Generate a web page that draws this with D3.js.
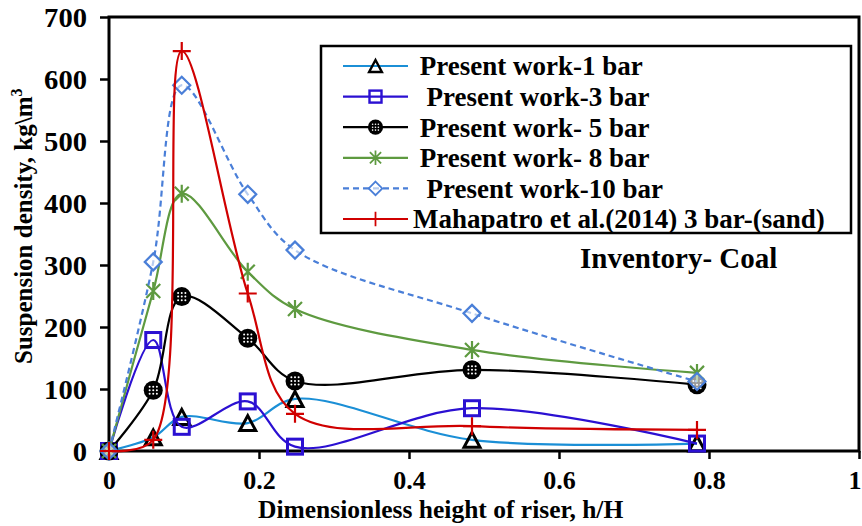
<!DOCTYPE html>
<html>
<head>
<meta charset="utf-8">
<script src="https://cdn.jsdelivr.net/npm/d3@7/dist/d3.min.js"></script>
<style>
  html, body { margin: 0; padding: 0; background: #fff; }
  svg { display: block; }
  text { font-family: "Liberation Serif", "Times New Roman", serif; font-weight: bold; fill: #000; }
  .pre { white-space: pre; }
</style>
</head>
<body>
<svg id="chart" width="862" height="526"></svg>
<script>
// Dimensionless riser height h/H for each measuring station
const hH = [0, 0.059, 0.097, 0.185, 0.248, 0.484, 0.784];

// Suspension density (kg/m3) per operating pressure
const bar1 = [0, 22, 55, 45, 84, 18, 12];
const bar3 = [0, 179, 39, 80, 7, 69, 12];
const bar5 = [0, 98, 249, 182, 113, 131, 107];
const bar8 = [0, 258, 415, 289, 229, 163, 126];
const bar10 = [0, 305, 590, 414, 324, 222, 112];
const mahapatro = [0, 18, 645, 254, 60, 40, 34];

const seriesNames = [
  " Present work-1 bar",
  "  Present work-3 bar",
  " Present work- 5 bar",
  " Present work- 8 bar",
  "  Present work-10 bar",
  "Mahapatro et al.(2014) 3 bar-(sand)"
];

const xTicks = [0, 0.2, 0.4, 0.6, 0.8, 1];
const yTicks = [0, 100, 200, 300, 400, 500, 600, 700];

const series = [
  { name: seriesNames[0], values: bar1, color: "#1b8fd6", marker: "triangle", dash: null },
  { name: seriesNames[1], values: bar3, color: "#2b10d2", marker: "square", dash: null },
  { name: seriesNames[2], values: bar5, color: "#000000", marker: "dotcircle", dash: null },
  { name: seriesNames[3], values: bar8, color: "#5e9a40", marker: "star", dash: null },
  { name: seriesNames[4], values: bar10, color: "#4a7fd8", marker: "diamond", dash: "6,4" },
  { name: seriesNames[5], values: mahapatro, color: "#d00000", marker: "plus", dash: null }
];

const svg = d3.select("#chart");
const plot = { left: 109, right: 859, top: 17, bottom: 451 };

const x = d3.scaleLinear().domain([0, 1]).range([plot.left, plot.right]);
const y = d3.scaleLinear().domain([0, 700]).range([plot.bottom, plot.top]);

// Markers drawn around (0,0)
function drawMarker(g, type, color, s) {
  s = s || 1;
  if (type === "triangle") {
    const w = 8 * s, h = 7.5 * s;
    g.append("path")
      .attr("d", `M0,${-h}L${w},${h}L${-w},${h}Z`)
      .attr("fill", "none").attr("stroke", "#000").attr("stroke-width", 3 * s)
      .attr("stroke-linejoin", "miter");
  } else if (type === "square") {
    const a = 7.5 * s;
    g.append("rect").attr("x", -a).attr("y", -a).attr("width", 2 * a).attr("height", 2 * a)
      .attr("fill", "none").attr("stroke", color).attr("stroke-width", 3 * s);
  } else if (type === "dotcircle") {
    const r = 9.5 * s;
    g.append("circle").attr("r", r).attr("fill", "#000");
    const step = 3.6 * s;
    for (let i = -1; i <= 1; i++) {
      for (let j = -1; j <= 1; j++) {
        g.append("circle").attr("cx", i * step).attr("cy", j * step).attr("r", 1 * s).attr("fill", "#fff");
      }
    }
  } else if (type === "star") {
    const a = 9 * s, d = 7 * s;
    g.append("path")
      .attr("d", `M0,${-a}V${a}M${-d},${-d}L${d},${d}M${-d},${d}L${d},${-d}`)
      .attr("stroke", color).attr("stroke-width", 2.2 * s).attr("fill", "none");
  } else if (type === "diamond") {
    const a = 8.5 * s;
    g.append("path")
      .attr("d", `M0,${-a}L${a},0L0,${a}L${-a},0Z`)
      .attr("fill", "#fff").attr("fill-opacity", 0.6).attr("stroke", color).attr("stroke-width", 2.2 * s);
  } else if (type === "plus") {
    const a = 9 * s;
    g.append("path")
      .attr("d", `M0,${-a}V${a}M${-a},0H${a}`)
      .attr("stroke", color).attr("stroke-width", 2.2 * s).attr("fill", "none");
  }
}

// Axes
const xAxis = d3.axisBottom(x).tickValues(xTicks).tickSize(8).tickFormat(d3.format("~g"));
const yAxis = d3.axisLeft(y).tickValues(yTicks).tickSize(9).tickFormat(d3.format("d"));

const gx = svg.append("g").attr("transform", `translate(0,${plot.bottom})`).call(xAxis);
gx.select(".domain").remove();
gx.selectAll(".tick line").attr("stroke", "#000").attr("stroke-width", 2.5);
gx.selectAll(".tick text").attr("font-size", 26).attr("y", 20).attr("dy", "0.71em")
  .style("font-family", '"Liberation Serif", serif').style("font-weight", "bold");
// keep the last label inside the page edge
gx.selectAll(".tick text").filter(d => d === 1).attr("text-anchor", "end").attr("x", 2);

const gy = svg.append("g").attr("transform", `translate(${plot.left},0)`).call(yAxis);
gy.select(".domain").remove();
gy.selectAll(".tick line").attr("stroke", "#000").attr("stroke-width", 2.5);
gy.selectAll(".tick text").attr("font-size", 27).attr("x", -22).attr("dy", "0.34em")
  .attr("textLength", d => String(d).length * 14.3)
  .attr("lengthAdjust", "spacingAndGlyphs")
  .style("font-family", '"Liberation Serif", serif').style("font-weight", "bold");

// Plot frame
svg.append("rect")
  .attr("x", plot.left).attr("y", plot.top)
  .attr("width", plot.right - plot.left).attr("height", plot.bottom - plot.top)
  .attr("fill", "none").attr("stroke", "#000").attr("stroke-width", 3);

// Axis titles
svg.append("text")
  .attr("x", 258).attr("y", 518)
  .attr("font-size", 25.5)
  .text("Dimensionless height of riser, h/H");

const yTitle = svg.append("text")
  .attr("transform", "translate(32,364) rotate(-90)")
  .attr("font-size", 25);
yTitle.append("tspan").text("Suspension density, kg\\m");
yTitle.append("tspan").attr("font-size", 16).attr("dy", -10).text("3");

// Series lines and markers
const line = d3.line()
  .x(d => x(d[0]))
  .y(d => y(d[1]))
  .curve(d3.curveCatmullRom.alpha(0.5));

series.forEach(s => {
  const pts = hH.map((h, i) => [h, s.values[i]]);
  const g = svg.append("g");
  g.append("path")
    .datum(pts)
    .attr("d", line)
    .attr("fill", "none")
    .attr("stroke", s.color)
    .attr("stroke-width", 2.2)
    .attr("stroke-dasharray", s.dash);
  pts.forEach(p => {
    const m = g.append("g").attr("transform", `translate(${x(p[0])},${y(p[1])})`);
    drawMarker(m, s.marker, s.color, 1);
  });
});

// Legend
const legend = svg.append("g");
legend.append("rect")
  .attr("x", 321).attr("y", 46).attr("width", 530).attr("height", 187)
  .attr("fill", "#fff").attr("stroke", "#000").attr("stroke-width", 2.5);

const rowY = d3.scaleLinear().domain([0, 5]).range([66, 219]);
series.forEach((s, i) => {
  const yy = rowY(i);
  legend.append("line")
    .attr("x1", 343).attr("x2", 408).attr("y1", yy).attr("y2", yy)
    .attr("stroke", s.color).attr("stroke-width", 2.2)
    .attr("stroke-dasharray", s.dash);
  const m = legend.append("g").attr("transform", `translate(375.5,${yy})`);
  drawMarker(m, s.marker, s.color, 0.8);
  legend.append("text")
    .attr("class", "pre")
    .attr("x", 413).attr("y", yy).attr("dy", "0.35em")
    .attr("font-size", 27)
    .text(s.name);
});

// Annotation
svg.append("text")
  .attr("x", 580).attr("y", 268)
  .attr("font-size", 29)
  .text("Inventory- Coal");
</script>
</body>
</html>
